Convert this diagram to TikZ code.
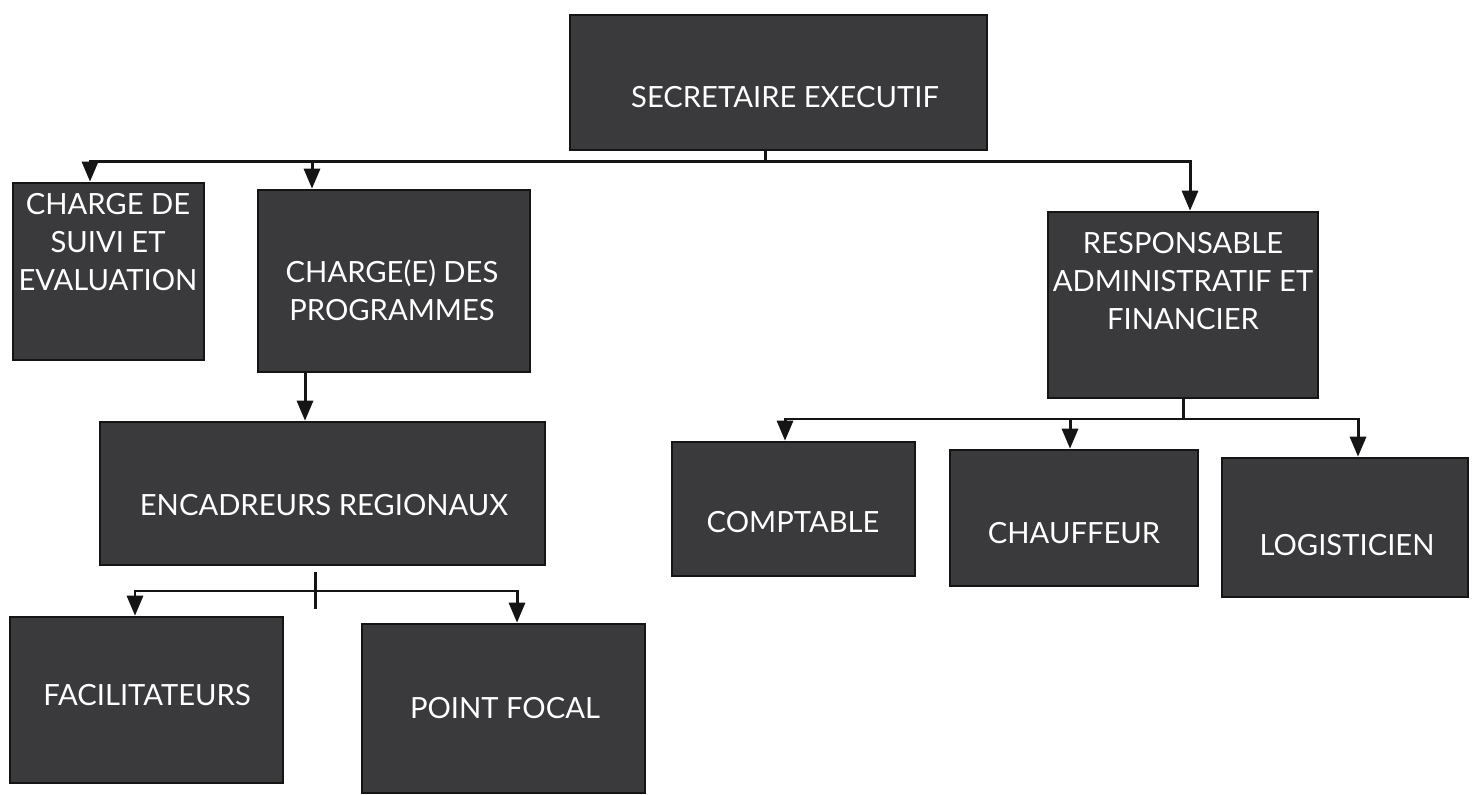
\documentclass[tikz,border=0pt]{standalone}
\usepackage{fontspec}
\setmainfont{Lato}
\usetikzlibrary{arrows.meta}
\definecolor{boxgray}{HTML}{3A3A3C}
\definecolor{inkline}{HTML}{151515}
\tikzset{
  box/.style={draw=inkline, line width=0.7pt, fill=boxgray, inner sep=0pt},
  lbl/.style={text=white, align=center, inner sep=0pt, font=\fontsize{8.3}{10.8}\selectfont},
  conn/.style={draw=inkline, line width=0.85pt, line cap=rect},
  arr/.style={draw=inkline, line width=0.85pt, -{Triangle[length=0.2cm, width=0.16cm]}}
}
\begin{document}
\begin{tikzpicture}[x=0.01cm, y=-0.01cm]
\useasboundingbox (0,0) rectangle (1480,795);
% boxes
\node[box, minimum width=4.17cm, minimum height=1.35cm] (se) at (778.5,82.5) {};
\node[box, minimum width=1.91cm, minimum height=1.77cm] (cse) at (108.5,271.5) {};
\node[box, minimum width=2.72cm, minimum height=1.82cm] (cp) at (394,281) {};
\node[box, minimum width=2.70cm, minimum height=1.86cm] (raf) at (1183,305) {};
\node[box, minimum width=4.45cm, minimum height=1.43cm] (er) at (322.5,493.5) {};
\node[box, minimum width=2.43cm, minimum height=1.34cm] (comp) at (793.5,509) {};
\node[box, minimum width=2.48cm, minimum height=1.36cm] (chauf) at (1074,518) {};
\node[box, minimum width=2.46cm, minimum height=1.39cm] (logi) at (1345,527.5) {};
\node[box, minimum width=2.73cm, minimum height=1.66cm] (faci) at (146.5,700) {};
\node[box, minimum width=2.83cm, minimum height=1.69cm] (pf) at (503.5,708.5) {};
% labels
\node[lbl] (seT) at (785,97) {SECRETAIRE EXECUTIF};
\node[lbl] (cseT) at (108,242) {CHARGE DE\\SUIVI ET\\EVALUATION};
\node[lbl] (cpT) at (392,290) {CHARGE(E) DES\\PROGRAMMES};
\node[lbl] (rafT) at (1183,281) {RESPONSABLE\\ADMINISTRATIF ET\\FINANCIER};
\node[lbl] (erT) at (324,505) {ENCADREURS REGIONAUX};
\node[lbl] (compT) at (793,522) {COMPTABLE};
\node[lbl] (chaufT) at (1074,533) {CHAUFFEUR};
\node[lbl] (logiT) at (1347,545) {LOGISTICIEN};
\node[lbl] (faciT) at (147,695) {FACILITATEURS};
\node[lbl] (pfT) at (505,708) {POINT FOCAL};
% bus 1
\coordinate (j1) at (765,162);
\coordinate (t1a) at (90,162);
\coordinate (t1b) at (312,162);
\coordinate (t1c) at (1190,162);
\draw[conn] (j1 |- se.south) -- (j1);
\draw[conn] (t1a) -- (t1c);
\draw[arr] (t1a) -- (t1a |- cse.north);
\draw[arr] (t1b) -- (t1b |- cp.north);
\draw[arr] (t1c) -- (t1c |- raf.north);
% bus 2
\coordinate (j2) at (1183,419);
\coordinate (t2a) at (785,419);
\coordinate (t2b) at (1070,419);
\coordinate (t2c) at (1358,419);
\draw[conn] (j2 |- raf.south) -- (j2);
\draw[conn] (t2a) -- (t2c);
\draw[arr] (t2a) -- (t2a |- comp.north);
\draw[arr] (t2b) -- (t2b |- chauf.north);
\draw[arr] (t2c) -- (t2c |- logi.north);
% CP -> ER
\coordinate (c3) at (305,400);
\draw[arr] (c3 |- cp.south) -- (c3 |- er.north);
% bus 3
\coordinate (t3a) at (135,591);
\coordinate (t3b) at (517,591);
\coordinate (k1) at (315,573);
\coordinate (k2) at (315,608);
\draw[conn] (t3a) -- (t3b);
\draw[arr] (t3a) -- (t3a |- faci.north);
\draw[arr] (t3b) -- (t3b |- pf.north);
\draw[conn] (k1) -- (k2);
\end{tikzpicture}
\end{document}
